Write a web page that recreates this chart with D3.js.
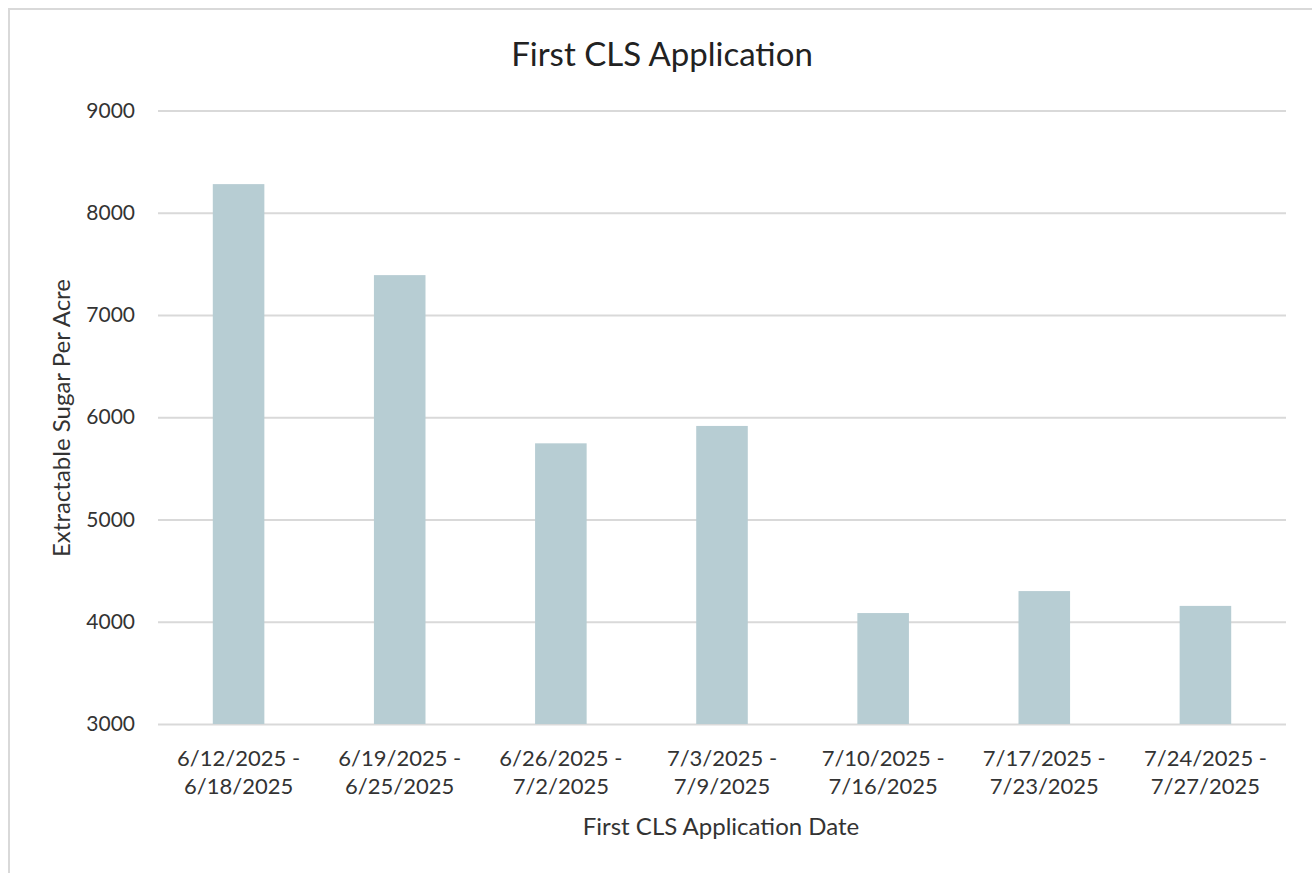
<!DOCTYPE html>
<meta charset="utf-8">
<style>
body { margin: 0; background: #fff; }
text { font-family: Lato, "Open Sans", sans-serif; fill: #333; }
.grid line { stroke: #d9d9d9; stroke-width: 2px; }
.bar { fill: #b7cdd3; }
</style>
<body>
<script src="https://d3js.org/d3.v7.min.js"></script>
<script>

// data
var periods = [
  ["6/12/2025 -", "6/18/2025"],
  ["6/19/2025 -", "6/25/2025"],
  ["6/26/2025 -", "7/2/2025"],
  ["7/3/2025 -", "7/9/2025"],
  ["7/10/2025 -", "7/16/2025"],
  ["7/17/2025 -", "7/23/2025"],
  ["7/24/2025 -", "7/27/2025"]
];
var sugar = [8280, 7390, 5745, 5915, 4085, 4300, 4155];
var yTicks = [3000, 4000, 5000, 6000, 7000, 8000, 9000];

var W = 1312, H = 873;
var margin = {top: 110.5, right: 26, bottom: 149, left: 158},
    width = W - margin.left - margin.right,
    height = H - margin.top - margin.bottom;

var x = d3.scaleBand().domain(d3.range(periods.length)).range([0, width])
    .paddingInner(0.68).paddingOuter(0.34);
var y = d3.scaleLinear().domain([3000, 9000]).range([height, 0]);

var svg = d3.select("body").append("svg")
    .attr("width", W)
    .attr("height", H);

// outer frame (only top and left visible)
svg.append("path")
    .attr("d", "M9," + H + "V9H" + W)
    .attr("fill", "none")
    .attr("stroke", "#d9d9d9")
    .attr("stroke-width", 2);

var g = svg.append("g")
    .attr("transform", "translate(" + margin.left + "," + margin.top + ")");

// gridlines
g.append("g")
    .attr("class", "grid")
    .call(d3.axisLeft(y).tickValues(yTicks).tickSize(-width).tickFormat(""))
    .call(function(s) { s.select(".domain").remove(); });

// bars
g.selectAll(".bar")
    .data(sugar)
    .enter().append("rect")
    .attr("class", "bar")
    .attr("x", function(d, i) { return x(i); })
    .attr("width", x.bandwidth())
    .attr("y", function(d) { return y(d); })
    .attr("height", function(d) { return height - y(d); });

// y axis labels
var yAxis = g.append("g")
    .call(d3.axisLeft(y).tickValues(yTicks).tickSize(0).tickPadding(23).tickFormat(d3.format("d")));
yAxis.select(".domain").remove();
yAxis.selectAll("text").style("font-size", "21px").style("font-family", "Lato, sans-serif").attr("fill", "#333");

// x axis labels (two lines)
var xAxis = g.append("g")
    .attr("transform", "translate(0," + height + ")")
    .call(d3.axisBottom(x).tickSize(0).tickFormat(""));
xAxis.select(".domain").remove();
xAxis.selectAll(".tick").each(function(i) {
  var t = d3.select(this).append("text")
      .attr("text-anchor", "middle")
      .style("font-size", "22px");
  periods[i].forEach(function(line, k) {
    t.append("tspan").attr("x", 0).attr("y", 42 + k * 28).text(line);
  });
});

// title
svg.append("text")
    .attr("x", 662).attr("y", 66)
    .attr("text-anchor", "middle")
    .style("font-size", "33px")
    .style("fill", "#222")
    .text("First CLS Application");

// axis titles
svg.append("text")
    .attr("x", 721).attr("y", 835)
    .attr("text-anchor", "middle")
    .style("font-size", "24px")
    .text("First CLS Application Date");

svg.append("text")
    .attr("transform", "translate(70,418) rotate(-90)")
    .attr("text-anchor", "middle")
    .style("font-size", "24px")
    .text("Extractable Sugar Per Acre");

</script>
</body>
